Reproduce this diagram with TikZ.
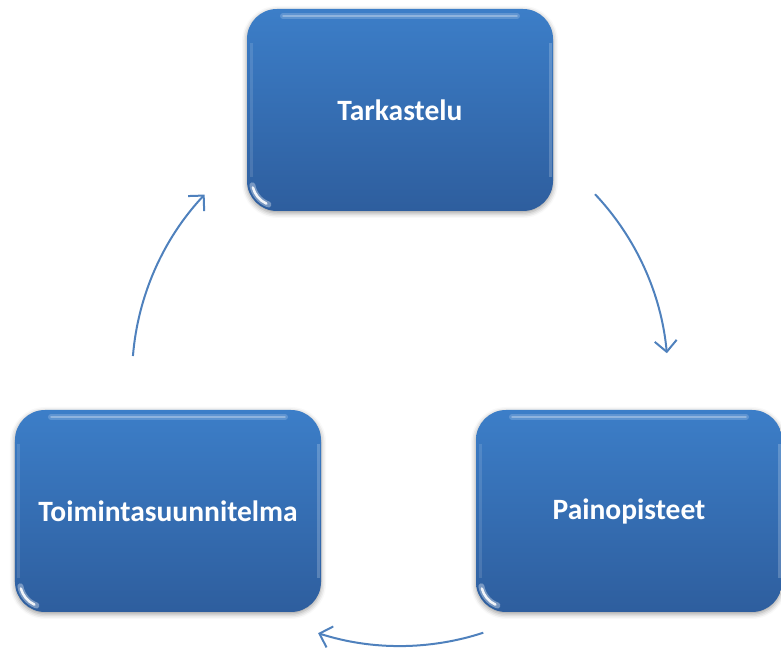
\documentclass[tikz,border=0pt]{standalone}
\usepackage{fontspec}
\setmainfont{Carlito}
\usetikzlibrary{arrows.meta,shadows.blur,calc}
\definecolor{boxtop}{RGB}{60,126,200}
\definecolor{boxbot}{RGB}{46,94,158}
\definecolor{arrowblue}{RGB}{79,129,189}
\tikzset{
  stepbox/.style={rounded corners=30bp, minimum width=306bp, minimum height=202bp,
    top color=boxtop, bottom color=boxbot, draw=none,
    blur shadow={shadow xshift=0bp, shadow yshift=-2bp, shadow blur radius=5bp, shadow opacity=40},
    text=white, font=\fontsize{29.5bp}{34bp}\selectfont\bfseries, inner sep=0pt,
    path picture={
      \draw[white, opacity=.18, line width=6bp, line cap=round]
        ($(path picture bounding box.north west)+(36bp,-7bp)$) -- ($(path picture bounding box.north east)+(-36bp,-7bp)$);
      \draw[white, opacity=.3, line width=1.5bp, line cap=round]
        ($(path picture bounding box.north west)+(36bp,-7bp)$) -- ($(path picture bounding box.north east)+(-36bp,-7bp)$);
      \draw[white, opacity=.12, line width=3bp]
        ($(path picture bounding box.north west)+(4bp,-34bp)$) -- ($(path picture bounding box.south west)+(4bp,34bp)$);
      \draw[white, opacity=.2, line width=3bp]
        ($(path picture bounding box.north east)+(-3bp,-34bp)$) -- ($(path picture bounding box.south east)+(-3bp,34bp)$);
      \draw[white, opacity=.35, line width=6bp, line cap=round]
        ($(path picture bounding box.south west)+(30bp,30bp)$) ++(190:25bp) arc[start angle=190, end angle=250, radius=25bp];
      \draw[white, opacity=.9, line width=2.5bp, line cap=round]
        ($(path picture bounding box.south west)+(30bp,30bp)$) ++(195:25bp) arc[start angle=195, end angle=245, radius=25bp];
    }},
  cyc/.style={draw=arrowblue, line width=2bp, -{Straight Barb[length=11bp,width=22bp]}},
}
\begin{document}
\begin{tikzpicture}[x=1bp,y=1bp]
  \useasboundingbox (0,0) rectangle (781,648);
  \node[stepbox] (tark) at (400,538) {Tarkastelu};
  \node[stepbox] (paino) at (629,137) {Painopisteet};
  \node[stepbox] (toim) at (168,137) {Toimintasuunnitelma};
  \coordinate (c) at (400,270);
  \coordinate (a1) at ($(c)+(43.3:268)$);
  \coordinate (a2) at ($(c)+(-71.9:268)$);
  \coordinate (a3) at ($(c)+(175.3:268)$);
  \draw[cyc] (a1) arc[start angle=43.3, end angle=5.3, radius=268];
  \draw[cyc] (a2) arc[start angle=-71.9, end angle=-107.8, radius=268];
  \draw[cyc] (a3) arc[start angle=175.3, end angle=136.8, radius=268];
\end{tikzpicture}
\end{document}
